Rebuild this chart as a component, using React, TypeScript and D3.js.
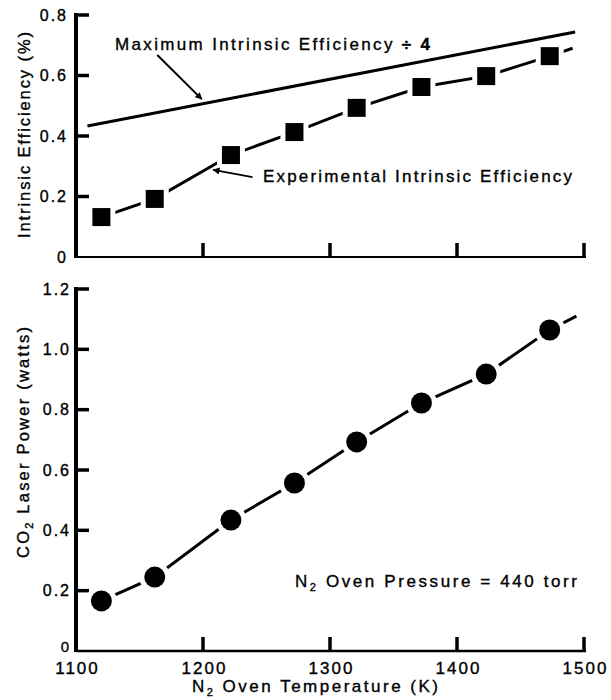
import React from "react";
import * as d3 from "d3";

// ---- Data ----
const temps = [1120, 1162, 1222, 1272, 1321, 1372, 1423, 1473];
const efficiency = [0.132, 0.192, 0.337, 0.413, 0.493, 0.562, 0.598, 0.664];
const power = [0.166, 0.245, 0.434, 0.557, 0.693, 0.822, 0.918, 1.064];
const effTail = [1491, 0.69];
const powerTail = [1494, 1.11];
const maxEffTemps = [1109, 1493];
const maxEffValues = [0.433, 0.744];

const xTicks = [1100, 1200, 1300, 1400, 1500];
const xTickLabels = ["1100", "1200", "1300", "1400", "1500"];
const topYTicks = [0, 0.2, 0.4, 0.6, 0.8];
const topYLabels = ["0", "0.2", "0.4", "0.6", "0.8"];
const botYTicks = [0, 0.2, 0.4, 0.6, 0.8, 1.0, 1.2];
const botYLabels = ["0", "0.2", "0.4", "0.6", "0.8", "1.0", "1.2"];

const FONT = "'Liberation Sans', Arial, Helvetica, sans-serif";
const TXT = { fill: "#000", stroke: "#000", strokeWidth: 0.35 };

export default function App() {
  const x = d3.scaleLinear().domain([1100, 1500]).range([76, 584]);
  const yTop = d3.scaleLinear().domain([0, 0.8]).range([257, 15]);
  const yBot = d3.scaleLinear().domain([0, 1.2]).range([651, 289]);

  const line = (ys: d3.ScaleLinear<number, number>) =>
    d3
      .line<[number, number]>()
      .x((d) => x(d[0]))
      .y((d) => ys(d[1]));

  const effPts: [number, number][] = temps.map((t, i) => [t, efficiency[i]]);
  effPts.push([effTail[0], effTail[1]]);
  const powPts: [number, number][] = temps.map((t, i) => [t, power[i]]);
  powPts.push([powerTail[0], powerTail[1]]);
  const maxPts: [number, number][] = maxEffTemps.map((t, i) => [t, maxEffValues[i]]);

  const sq = 18;
  const pad = 5;
  const r = 10.5;

  return (
    <svg
      width={611}
      height={700}
      style={{ position: "absolute", left: 0, top: 0, background: "#fff" }}
      fontFamily={FONT}
    >
      <defs>
        <marker
          id="ah"
          viewBox="0 0 10 10"
          refX="9"
          refY="5"
          markerWidth="10"
          markerHeight="7"
          markerUnits="userSpaceOnUse"
          orient="auto"
        >
          <path d="M0,0 L10,5 L0,10 z" fill="#000" />
        </marker>
      </defs>
      <rect width={611} height={700} fill="#fff" />

      {/* ===== Top panel ===== */}
      <line x1={76} x2={76} y1={yTop(0.8) - 2} y2={yTop(0) + 1} stroke="#000" strokeWidth={4} />
      {topYTicks.map((v, i) => (
        <g key={"tyt" + i}>
          {v > 0 && (
            <line x1={76} x2={89} y1={yTop(v)} y2={yTop(v)} stroke="#000" strokeWidth={3.5} />
          )}
          <text
            x={68}
            y={yTop(v)}
            dy="0.36em"
            textAnchor="end"
            fontSize={16}
            letterSpacing={2}
            {...TXT}
          >
            {topYLabels[i]}
          </text>
        </g>
      ))}
      <line x1={76} x2={586} y1={257} y2={257} stroke="#000" strokeWidth={2} />
      {xTicks.slice(1).map((t, i) => (
        <line key={"txt" + i} x1={x(t)} x2={x(t)} y1={257} y2={243} stroke="#000" strokeWidth={3.5} />
      ))}
      <text
        transform={`translate(24,${(32 + 238) / 2}) rotate(-90)`}
        textAnchor="middle"
        dy="0.36em"
        fontSize={16.5}
        textLength={206}
        lengthAdjust="spacing"
        {...TXT}
      >
        Intrinsic Efficiency (%)
      </text>

      <path d={line(yTop)(maxPts) || ""} fill="none" stroke="#000" strokeWidth={3} />
      <path d={line(yTop)(effPts) || ""} fill="none" stroke="#000" strokeWidth={3} />
      {temps.map((t, i) => (
        <g key={"sq" + i}>
          <rect
            x={x(t) - sq / 2 - pad}
            y={yTop(efficiency[i]) - sq / 2 - pad}
            width={sq + 2 * pad}
            height={sq + 2 * pad}
            fill="#fff"
          />
          <rect
            x={x(t) - sq / 2}
            y={yTop(efficiency[i]) - sq / 2}
            width={sq}
            height={sq}
            fill="#000"
          />
        </g>
      ))}

      <text x={115} y={50} fontSize={17} textLength={315} lengthAdjust="spacing" {...TXT}>
        Maximum Intrinsic Efficiency <tspan fontWeight="bold">÷ 4</tspan>
      </text>
      <line
        x1={x(1164)}
        y1={yTop(0.668)}
        x2={x(1199)}
        y2={yTop(0.522)}
        stroke="#000"
        strokeWidth={2}
        markerEnd="url(#ah)"
      />
      <text x={263} y={182} fontSize={17} textLength={309} lengthAdjust="spacing" {...TXT}>
        Experimental Intrinsic Efficiency
      </text>
      <line
        x1={x(1239)}
        y1={yTop(0.264)}
        x2={x(1208)}
        y2={yTop(0.288)}
        stroke="#000"
        strokeWidth={2}
        markerEnd="url(#ah)"
      />

      {/* ===== Bottom panel ===== */}
      <line x1={76} x2={76} y1={yBot(1.2) - 2} y2={yBot(0) + 1} stroke="#000" strokeWidth={4} />
      {botYTicks.map((v, i) => (
        <g key={"byt" + i}>
          {v > 0 && (
            <line x1={76} x2={89} y1={yBot(v)} y2={yBot(v)} stroke="#000" strokeWidth={3.5} />
          )}
          <text
            x={71}
            y={yBot(v) - (v === 0 ? 4 : 0)}
            dy="0.36em"
            textAnchor="end"
            fontSize={v === 0 ? 15 : 16}
            letterSpacing={2}
            {...TXT}
          >
            {botYLabels[i]}
          </text>
        </g>
      ))}
      <line x1={76} x2={586} y1={651} y2={651} stroke="#000" strokeWidth={2.5} />
      {xTicks.slice(1).map((t, i) => (
        <line key={"bxt" + i} x1={x(t)} x2={x(t)} y1={651} y2={637} stroke="#000" strokeWidth={3.5} />
      ))}
      {xTicks.map((t, i) => (
        <text
          key={"bxl" + i}
          x={x(t) + 1.5}
          y={674}
          textAnchor="middle"
          fontSize={17}
          letterSpacing={2}
          {...TXT}
        >
          {xTickLabels[i]}
        </text>
      ))}
      <text x={192} y={692} fontSize={17} textLength={246} lengthAdjust="spacing" {...TXT}>
        N<tspan fontSize={11} dy={4}>2</tspan>
        <tspan dy={-4}> Oven Temperature (K)</tspan>
      </text>
      <text
        transform={`translate(23,${(327 + 558) / 2}) rotate(-90)`}
        textAnchor="middle"
        dy="0.36em"
        fontSize={16.5}
        textLength={231}
        lengthAdjust="spacing"
        {...TXT}
      >
        CO<tspan fontSize={11} dy={4}>2</tspan>
        <tspan dy={-4}> Laser Power (watts)</tspan>
      </text>

      <path d={line(yBot)(powPts) || ""} fill="none" stroke="#000" strokeWidth={3} />
      {temps.map((t, i) => (
        <g key={"c" + i}>
          <circle cx={x(t)} cy={yBot(power[i])} r={r + pad} fill="#fff" />
          <circle cx={x(t)} cy={yBot(power[i])} r={r} fill="#000" />
        </g>
      ))}

      <text x={295} y={587} fontSize={17} textLength={282} lengthAdjust="spacing" {...TXT}>
        N<tspan fontSize={11} dy={4}>2</tspan>
        <tspan dy={-4}> Oven Pressure = 440 torr</tspan>
      </text>
    </svg>
  );
}
